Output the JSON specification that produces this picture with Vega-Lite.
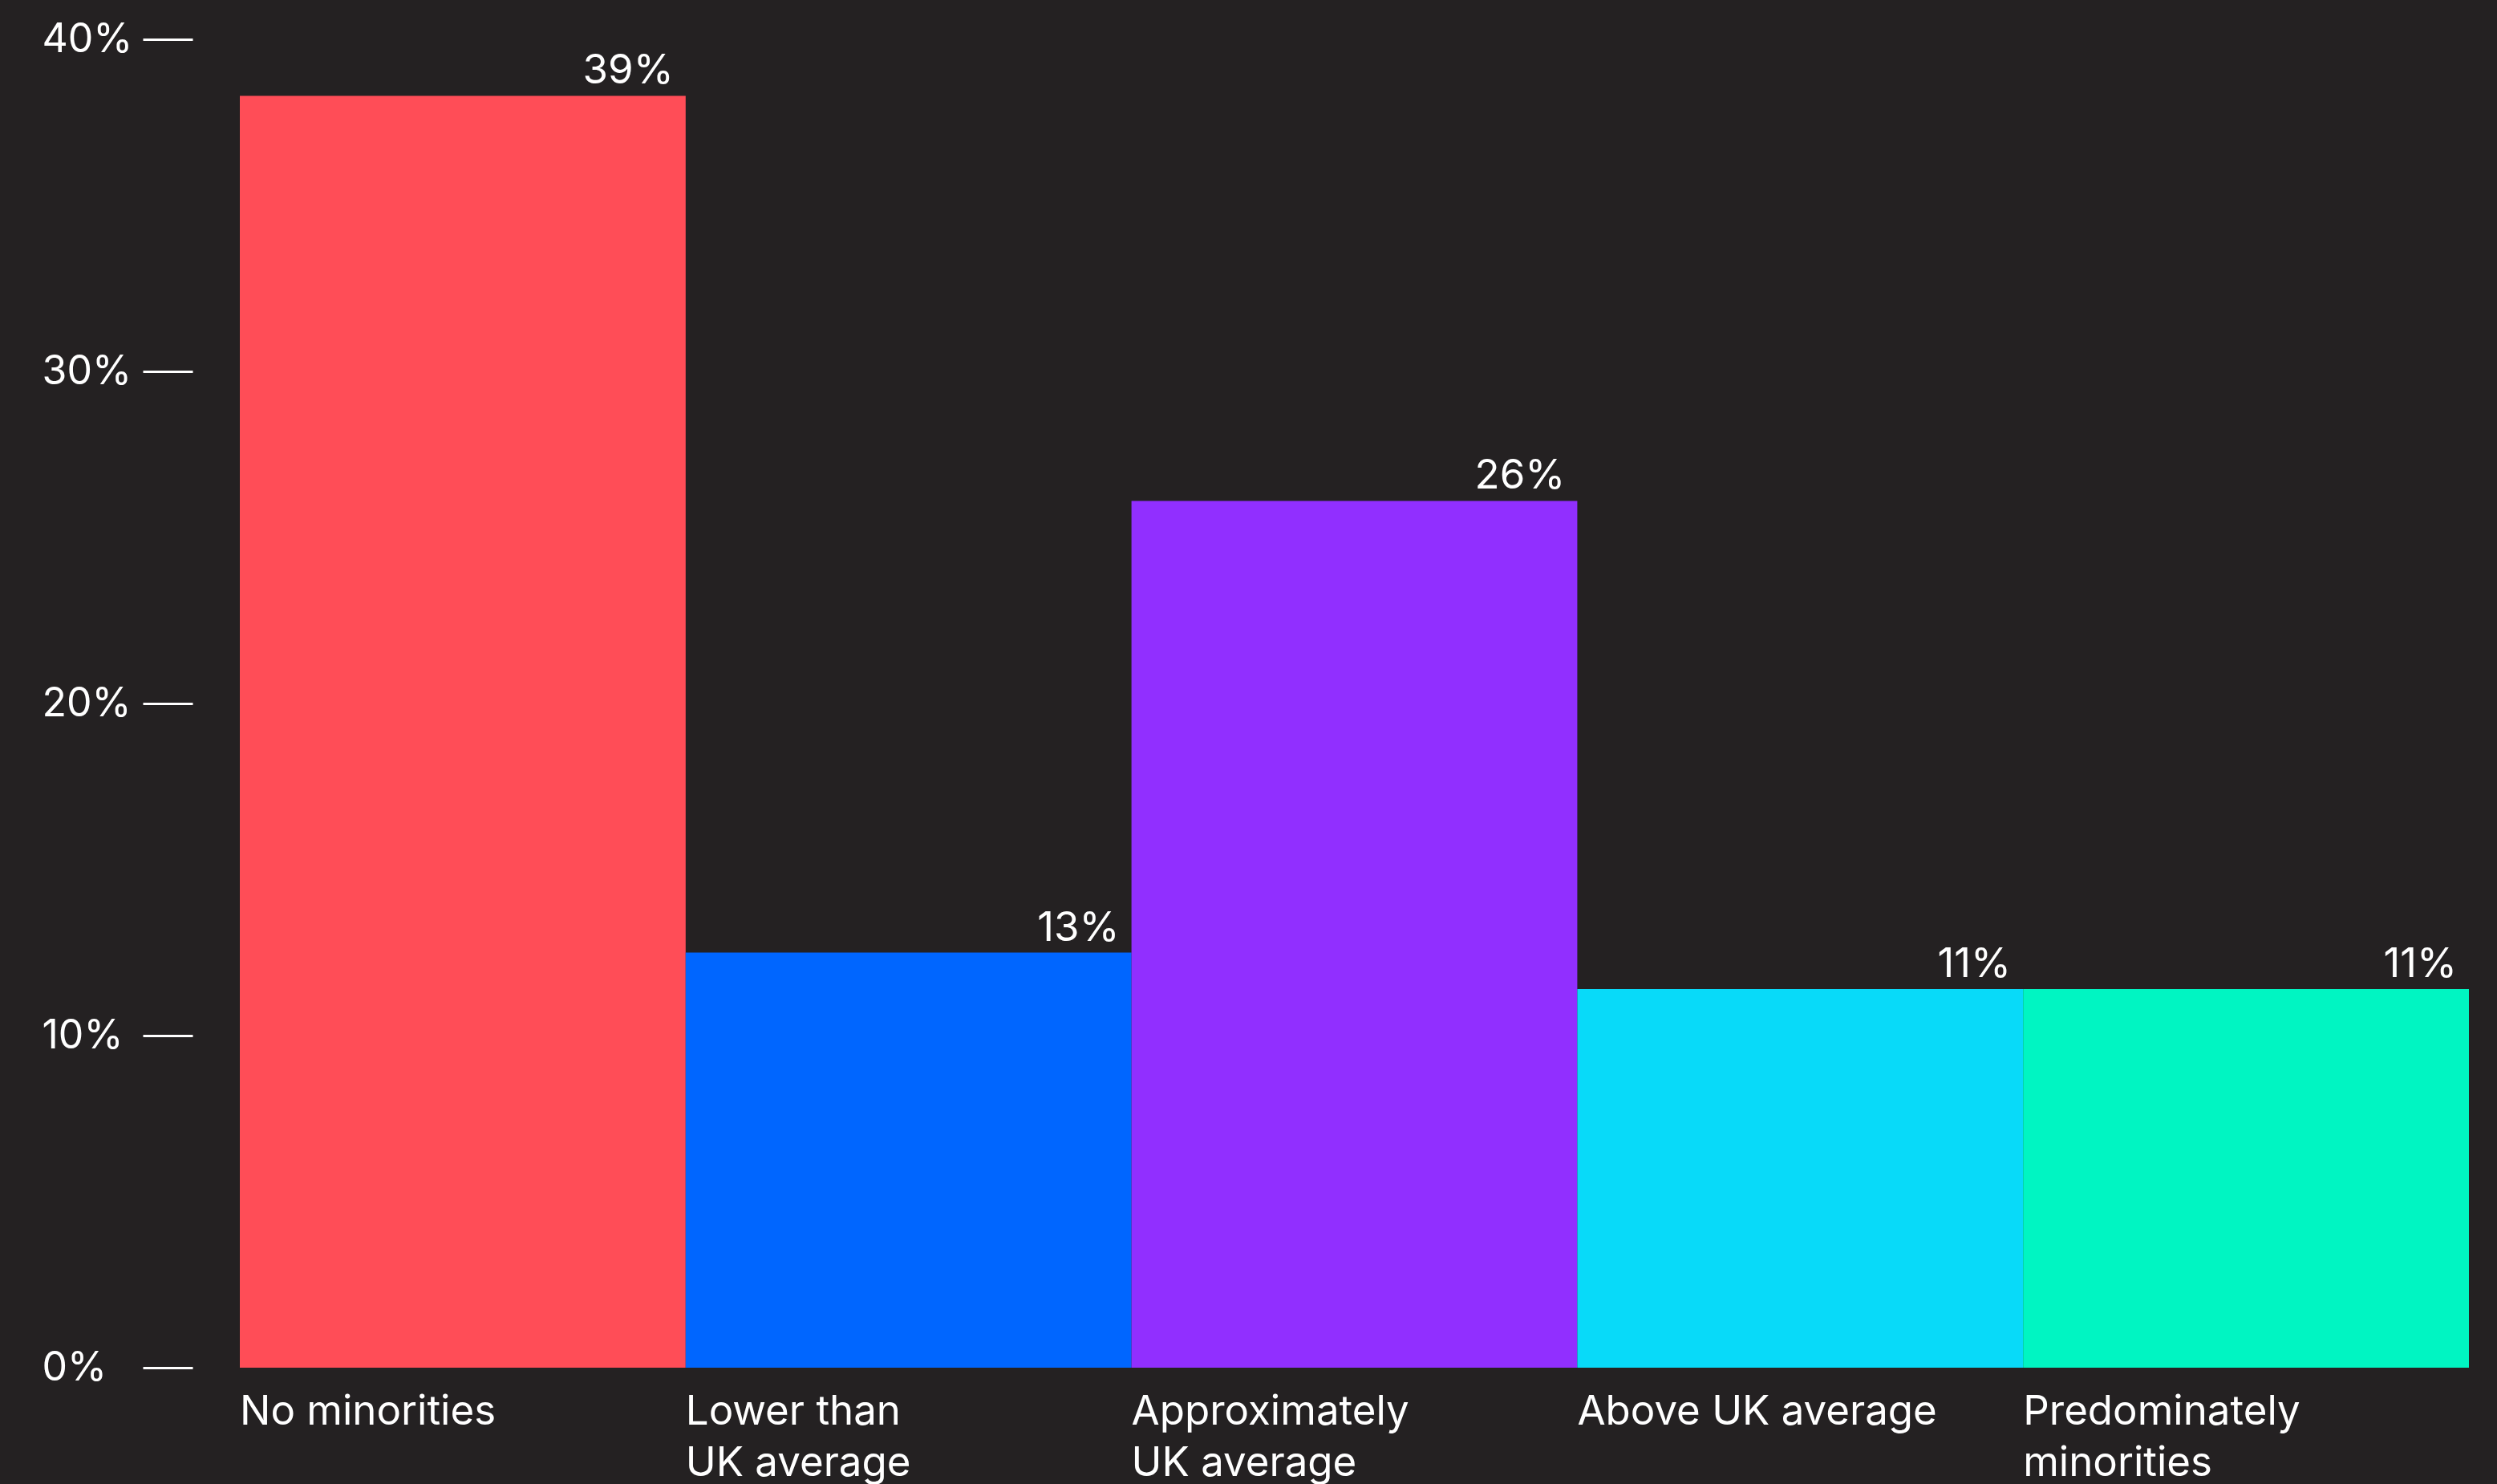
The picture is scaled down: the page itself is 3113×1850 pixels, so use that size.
{
  "$schema": "https://vega.github.io/schema/vega-lite/v6.json",
  "autosize": {"type": "none"},
  "padding": {"left": 299, "top": 49, "right": 35, "bottom": 145},
  "width": 2779,
  "height": 1656,
  "background": "#242122",
  "config": {"view": {"stroke": null}, "font": "Inter"},
  "data": {
    "values": [
      {"group": "No minorities", "value": 38.3, "label": "39%"},
      {"group": "Lower than UK average", "value": 12.5, "label": "13%"},
      {"group": "Approximately UK average", "value": 26.1, "label": "26%"},
      {"group": "Above UK average", "value": 11.4, "label": "11%"},
      {"group": "Predominately minorities", "value": 11.4, "label": "11%"}
    ]
  },
  "encoding": {
    "x": {
      "field": "group",
      "type": "nominal",
      "sort": null,
      "scale": {"paddingInner": 0, "paddingOuter": 0},
      "axis": {
        "title": null,
        "domain": false,
        "ticks": false,
        "labelAngle": 0,
        "labelAlign": "left",
        "labelBaseline": "top",
        "labelOffset": -277.9,
        "labelPadding": 30,
        "labelFont": "Inter",
        "labelFontSize": 51,
        "labelLineHeight": 64,
        "labelColor": "#ffffff",
        "labelLimit": 0,
        "labelOverlap": false,
        "labelBound": false,
        "labelExpr": "datum.value == 'Lower than UK average' ? ['Lower than', 'UK average'] : datum.value == 'Approximately UK average' ? ['Approximately', 'UK average'] : datum.value == 'Predominately minorities' ? ['Predominately', 'minorities'] : datum.value"
      }
    }
  },
  "layer": [
    {
      "mark": {"type": "bar"},
      "encoding": {
        "y": {
          "field": "value",
          "type": "quantitative",
          "scale": {"domain": [0, 40], "nice": false},
          "axis": {
            "title": null,
            "values": [0, 10, 20, 30, 40],
            "domain": false,
            "grid": false,
            "offset": 59,
            "tickSize": 62,
            "tickWidth": 3,
            "tickColor": "#ffffff",
            "labelPadding": 126,
            "labelAlign": "left",
            "labelBaseline": "middle",
            "labelFont": "Inter",
            "labelFontSize": 50,
            "labelColor": "#ffffff",
            "labelExpr": "datum.value + '%'"
          }
        },
        "color": {
          "field": "group",
          "type": "nominal",
          "sort": null,
          "scale": {
            "domain": ["No minorities", "Lower than UK average", "Approximately UK average", "Above UK average", "Predominately minorities"],
            "range": ["#FF4D57", "#0066FF", "#912FFF", "#08DAF9", "#00F5C2"]
          },
          "legend": null
        }
      }
    },
    {
      "mark": {"type": "text", "align": "right", "baseline": "alphabetic", "dx": -15, "dy": -15, "fontSize": 51, "font": "Inter", "color": "#ffffff"},
      "encoding": {
        "x": {"field": "group", "type": "nominal", "sort": null, "bandPosition": 1},
        "y": {"field": "value", "type": "quantitative"},
        "text": {"field": "label"}
      }
    }
  ]
}
